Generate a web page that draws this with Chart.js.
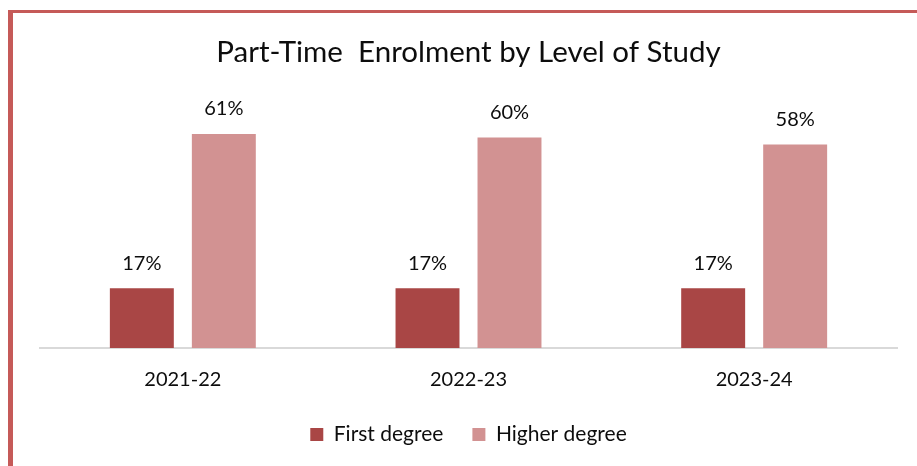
<!DOCTYPE html>
<html>
<head>
<meta charset="utf-8">
<script src="https://cdn.jsdelivr.net/npm/chart.js@4"></script>
<style>
  body { margin: 0; background: #fff; }
  #frame {
    position: absolute; left: 8px; top: 10px; right: 0; bottom: 0;
    border-top: 3px solid #c55a58; border-left: 5px solid #c55a58;
  }
  #chart { position: absolute; left: 0; top: 0; }
</style>
</head>
<body>
<div id="frame"></div>
<canvas id="chart" width="917" height="466"></canvas>
<script>
// data
const years = ['2021-22', '2022-23', '2023-24'];
const firstDegree = [17, 17, 17];
const higherDegree = [61, 60, 58];

const fontFamily = 'Lato, "Open Sans", sans-serif';

// draws "xx%" above each bar
const barLabels = {
    id: 'barLabels',
    afterDatasetsDraw(chart) {
        const ctx = chart.ctx;
        ctx.save();
        ctx.font = '20px ' + fontFamily;
        ctx.fillStyle = '#0d0d0d';
        ctx.textAlign = 'center';
        ctx.textBaseline = 'middle';
        chart.data.datasets.forEach((ds, i) => {
            chart.getDatasetMeta(i).data.forEach((bar, j) => {
                ctx.fillText(ds.data[j] + '%', bar.x, bar.y - 25);
            });
        });
        ctx.restore();
    }
};

const chartData = {
    labels: years,
    datasets: [{
        label: 'First degree',
        data: firstDegree,
        backgroundColor: '#a94645',
    }, {
        label: 'Higher degree',
        data: higherDegree,
        backgroundColor: '#d29292',
    }]
};

const chartConfig = {
    type: 'bar',
    data: chartData,
    options: {
        responsive: false,
        animation: false,
        categoryPercentage: 0.574,
        barPercentage: 0.78,
        layout: { padding: { left: 40, right: 20, top: 0, bottom: 11 } },
        plugins: {
            title: {
                display: true,
                text: 'Part-Time  Enrolment by Level of Study',
                color: '#0d0d0d',
                font: { family: fontFamily, size: 29.5, weight: 'normal' },
                padding: { top: 35, bottom: 32 }
            },
            legend: {
                position: 'bottom',
                labels: {
                    color: '#0d0d0d',
                    font: { family: fontFamily, size: 21 },
                    boxWidth: 13,
                    boxHeight: 13,
                    padding: 29
                }
            },
            tooltip: { enabled: false }
        },
        scales: {
            x: {
                grid: { display: false, drawTicks: false },
                border: { color: '#d9d9d9', width: 2 },
                ticks: { color: '#0d0d0d', font: { family: fontFamily, size: 20 }, padding: 20 },
                // pull the axis down closer to the legend
                afterFit(scale) { scale.height -= 17; }
            },
            y: {
                display: false,
                min: 0,
                max: 70
            }
        }
    },
    plugins: [barLabels]
};

const ctx = document.getElementById('chart').getContext('2d');
new Chart(ctx, chartConfig);
</script>
</body>
</html>
